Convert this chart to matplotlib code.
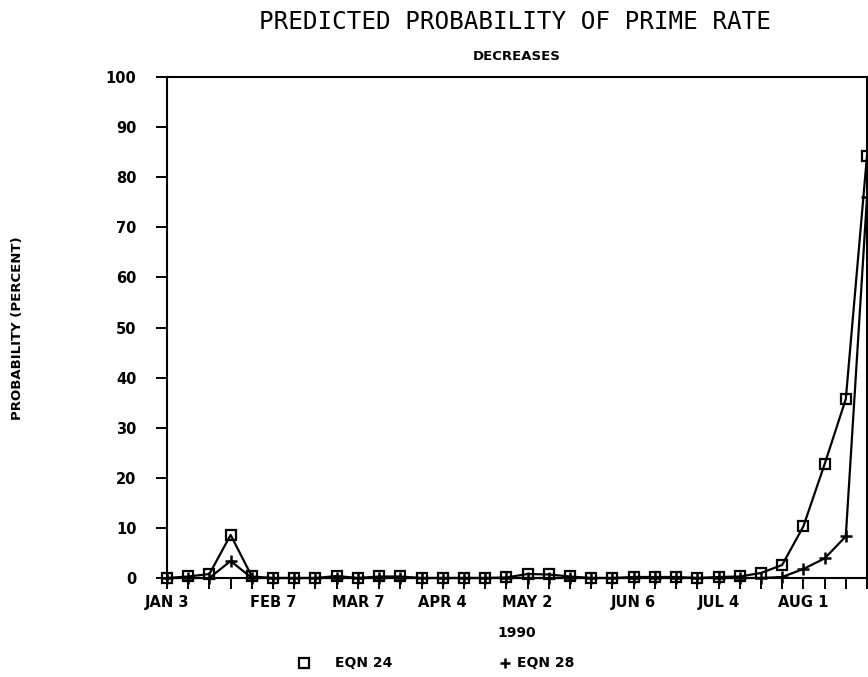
import numpy as np
import pandas as pd
import matplotlib
matplotlib.use('Agg')
import matplotlib.pyplot as plt
from matplotlib.lines import Line2D

# weekly observations, 1990
weeks = pd.date_range('1990-01-03', periods=34, freq='7D')
eqn24 = [0, 0.3, 0.8, 8.6, 0.3, 0, 0, 0, 0.4, 0, 0.3, 0.3, 0, 0, 0, 0, 0.1,
         0.8, 0.7, 0.3, 0, 0, 0.2, 0.2, 0.2, 0, 0.2, 0.3, 1.0, 2.6, 10.3, 22.7,
         35.7, 84.3]
eqn28 = [0, 0, 0, 3.4, 0, 0, 0, 0, 0, 0, 0, 0, 0, 0, 0, 0, 0,
         0, 0, 0, 0, 0, 0, 0, 0, 0, 0, 0, 0, 0.2, 1.8, 3.9,
         8.3, 76.0]
label_dates = ['1990-01-03', '1990-02-07', '1990-03-07', '1990-04-04',
               '1990-05-02', '1990-06-06', '1990-07-04', '1990-08-01']
label_text = ['JAN 3', 'FEB 7', 'MAR 7', 'APR 4', 'MAY 2', 'JUN 6', 'JUL 4', 'AUG 1']
yticks = np.arange(0, 101, 10)

plt.rcParams['font.family'] = 'DejaVu Sans'
fig = plt.figure(figsize=(8.68, 6.77), dpi=100)
ax = fig.add_axes([167 / 868, 1 - 578 / 677, 700 / 868, 501 / 677])

ax.plot(weeks, eqn24, color='black', lw=1.6, marker='s', ms=7,
        mfc='none', mec='black', mew=1.6, clip_on=False, zorder=3)
ax.plot(weeks, eqn28, color='black', lw=1.6, marker='+', ms=9,
        mew=1.8, clip_on=False, zorder=4)

ax.set_xlim(weeks[0], weeks[-1])
ax.set_ylim(0, 100)

lab_map = dict(zip(pd.to_datetime(label_dates), label_text))
ax.set_xticks(weeks)
ax.set_xticklabels([lab_map.get(d, '') for d in weeks],
                   fontsize=10.5, fontweight='bold')
ax.set_yticks(yticks)
ax.set_yticklabels([str(v) for v in yticks], fontsize=10.5, fontweight='bold')
ax.tick_params(axis='both', direction='out', length=8, width=1.4, color='black')
ax.tick_params(axis='x', pad=4)
ax.tick_params(axis='y', pad=14)
for s in ax.spines.values():
    s.set_linewidth(1.5)

ax.set_xlabel('1990', fontsize=10, fontweight='bold', labelpad=12)

fig.text(515 / 868, 1 - 22 / 677, 'PREDICTED PROBABILITY OF PRIME RATE',
         ha='center', va='center', fontsize=17.5, family='DejaVu Sans Mono')
fig.text(517 / 868, 1 - 57 / 677, 'DECREASES', ha='center', va='center',
         fontsize=9.5, fontweight='bold')
fig.text(18 / 868, 1 - 328 / 677, 'PROBABILITY (PERCENT)', rotation=90,
         ha='center', va='center', fontsize=9.5, fontweight='bold')

# legend row
fig.add_artist(Line2D([304 / 868], [1 - 663 / 677], marker='s', ms=7,
                      mfc='none', mec='black', mew=1.6, ls='none'))
fig.text(335 / 868, 1 - 663 / 677, 'EQN 24', ha='left', va='center',
         fontsize=10, fontweight='bold')
fig.add_artist(Line2D([505 / 868], [1 - 663 / 677], marker='+', ms=7,
                      mec='black', mew=1.8, ls='none'))
fig.text(517 / 868, 1 - 663 / 677, 'EQN 28', ha='left', va='center',
         fontsize=10, fontweight='bold')

fig.savefig('out.png', dpi=100)
